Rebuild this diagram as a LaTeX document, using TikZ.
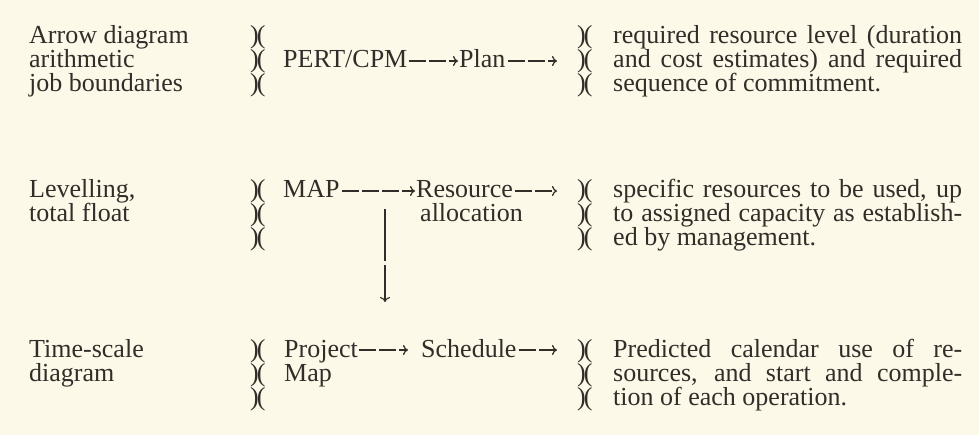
\documentclass[tikz,border=0pt]{standalone}
\usepackage{fontspec}
\setmainfont{Liberation Serif}
\usetikzlibrary{arrows.meta}
\definecolor{paper}{HTML}{FCF9E9}
\definecolor{ink}{HTML}{322D29}
\newcommand{\pcl}{)\kern-2pt(}
\begin{document}
\begin{tikzpicture}[x=1pt,y=-1pt,
  txt/.style={anchor=base west, inner sep=0pt, text=ink, font=\fontsize{26}{24}\selectfont},
  darr/.style={draw=ink, line width=1.6pt, dash pattern=on 17pt off 3pt,
    -{To[length=5pt,width=10pt,line width=1.3pt]}},
  varr/.style={draw=ink, line width=1.3pt, dash pattern=on 52pt off 4pt,
    -{To[length=5pt,width=10pt,line width=1.1pt]}},
]
\fill[paper] (0,0) rectangle (979,435);
\useasboundingbox (0,0) rectangle (979,435);

% ---------- Row 1 ----------
\node[txt] (lt11) at (29,44) {Arrow diagram};
\node[txt] (lt12) at (29,68) {arithmetic};
\node[txt] (lt13) at (29,92) {job boundaries};
\node[txt] (mb11) at (250,44) {\pcl};
\node[txt] (mb12) at (250,68) {\pcl};
\node[txt] (mb13) at (250,92) {\pcl};
\node[txt] (pert) at (283,68) {PERT/CPM};
\node[txt] (plan) at (459,68) {Plan};
\coordinate (e1) at (557,61);
\draw[darr] ([yshift=7pt,xshift=1pt]pert.base east) -- ([yshift=7pt,xshift=-1pt]plan.base west);
\draw[darr] ([yshift=7pt,xshift=2pt]plan.base east) -- (e1);
\node[txt] (rb11) at (577,44) {\pcl};
\node[txt] (rb12) at (577,68) {\pcl};
\node[txt] (rb13) at (577,92) {\pcl};
\node[txt] (rt11) at (613,44) {\makebox[349pt][s]{required resource level (duration}};
\node[txt] (rt12) at (613,68) {\makebox[349pt][s]{and cost estimates) and required}};
\node[txt] (rt13) at (613,92) {sequence of commitment.};

% ---------- Row 2 ----------
\node[txt] (lt21) at (29,198) {Levelling,};
\node[txt] (lt22) at (29,222) {total float};
\node[txt] (mb21) at (250,198) {\pcl};
\node[txt] (mb22) at (250,222) {\pcl};
\node[txt] (mb23) at (250,246) {\pcl};
\node[txt] (map) at (283,198) {MAP};
\node[txt] (res) at (416,198) {Resource};
\node[txt] (alloc) at (420,222) {allocation};
\coordinate (e2) at (557,191);
\draw[darr] ([yshift=7pt,xshift=2pt]map.base east) -- ([yshift=7pt,xshift=-1pt]res.base west);
\draw[darr] ([yshift=7pt,xshift=2pt]res.base east) -- (e2);
\coordinate (vtop) at (385,209);
\coordinate (vbot) at (385,302);
\draw[varr] (vtop) -- (vbot);
\node[txt] (rb21) at (577,198) {\pcl};
\node[txt] (rb22) at (577,222) {\pcl};
\node[txt] (rb23) at (577,246) {\pcl};
\node[txt] (rt21) at (613,198) {\makebox[349pt][s]{specific resources to be used, up}};
\node[txt] (rt22) at (613,222) {\makebox[349pt][s]{to assigned capacity as establish-}};
\node[txt] (rt23) at (613,246) {ed by management.};

% ---------- Row 3 ----------
\node[txt] (lt31) at (29,357) {Time-scale};
\node[txt] (lt32) at (29,381) {diagram};
\node[txt] (mb31) at (250,357) {\pcl};
\node[txt] (mb32) at (250,381) {\pcl};
\node[txt] (mb33) at (250,405) {\pcl};
\node[txt] (proj) at (284,357) {Project};
\node[txt] (mapb) at (284,381) {Map};
\node[txt] (sched) at (421,357) {Schedule};
\coordinate (e3) at (557,350);
\draw[darr] ([yshift=7pt,xshift=1pt]proj.base east) -- ([yshift=7pt,xshift=-13pt]sched.base west);
\draw[darr] ([yshift=7pt,xshift=2pt]sched.base east) -- (e3);
\node[txt] (rb31) at (577,357) {\pcl};
\node[txt] (rb32) at (577,381) {\pcl};
\node[txt] (rb33) at (577,405) {\pcl};
\node[txt] (rt31) at (613,357) {\makebox[349pt][s]{Predicted calendar use of re-}};
\node[txt] (rt32) at (613,381) {\makebox[349pt][s]{sources, and start and comple-}};
\node[txt] (rt33) at (613,405) {tion of each operation.};
\end{tikzpicture}
\end{document}
